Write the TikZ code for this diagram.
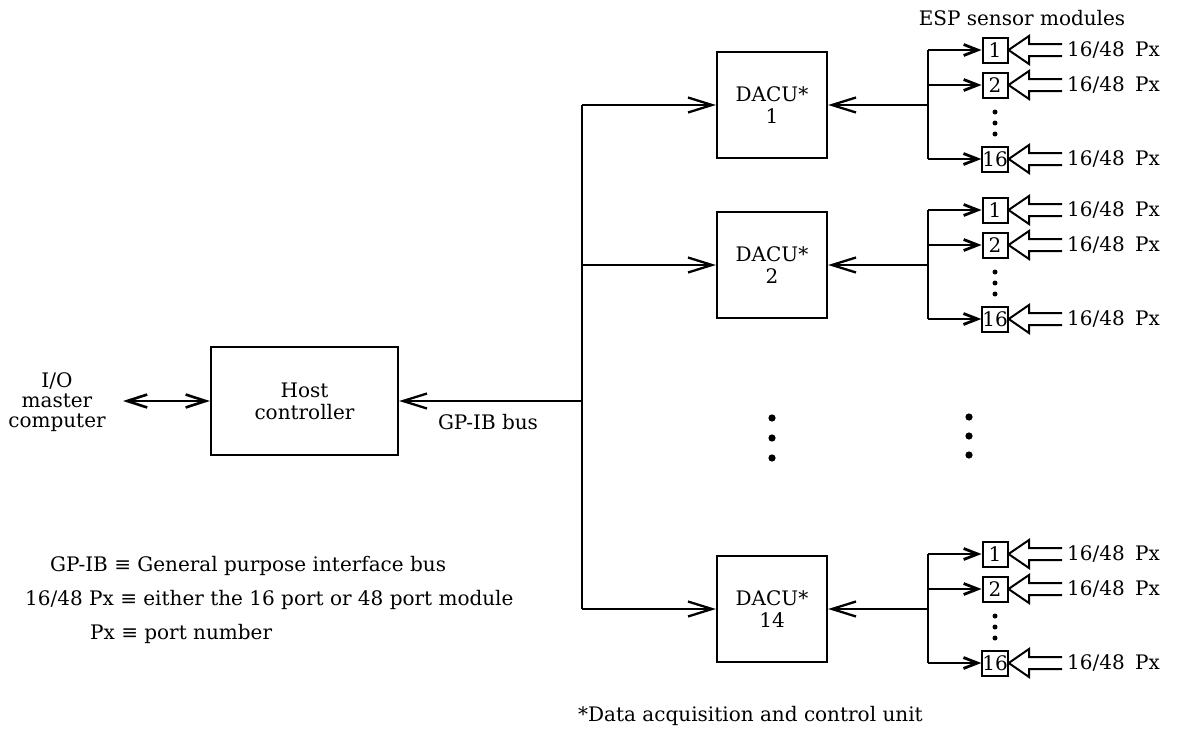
\documentclass[tikz,border=0pt]{standalone}
\usepackage{fontspec}
\setmainfont{DejaVu Serif}
\usetikzlibrary{arrows.meta}
\tikzset{
  txt/.style={font=\fontsize{20}{22}\selectfont, inner sep=0pt},
  dbox/.style={draw, line width=2.3pt, minimum width=110pt, minimum height=106pt, align=center, font=\fontsize{20}{22}\selectfont},
  hbox/.style={draw, line width=2.3pt, minimum width=187pt, minimum height=108pt, align=center, font=\fontsize{20}{22}\selectfont},
  mbox/.style={draw, line width=2pt, minimum width=25pt, minimum height=25pt, inner sep=0pt, font=\fontsize{20}{22}\selectfont},
  conn/.style={line width=2.3pt},
  arr/.style={line width=2.3pt, -{Straight Barb[length=24pt,width=15pt,line width=2.3pt]}},
  sarr/.style={line width=2.3pt, -{Straight Barb[length=14pt,width=11pt,line width=2.8pt]}},
  darr/.style={line width=2.8pt, {Straight Barb[length=20pt,width=13pt,line width=2.6pt]}-{Straight Barb[length=20pt,width=13pt,line width=2.6pt]}},
  hollow/.style={line width=2pt, line join=miter},
  dot/.style={fill=black},
}
\newcommand\dacuunit[3]{%
  \node[dbox] (#1) at (772,#3) {DACU*\\#2};
  \coordinate (#1b) at (928,#3);
  \draw[arr] (#1b) -- (#1.east);
  \foreach \m/\d in {1/-55,2/-20,16/54} {
    \node[mbox] (#1m\m) at (995,#3+\d) {\m};
    \coordinate (#1c\m) at (928,#3+\d);
    \draw[sarr] (#1c\m) -- (#1m\m.west);
    \draw[hollow] (1062,#3+\d-6) -- (1029,#3+\d-6) -- (1029,#3+\d-14) -- (#1m\m.east) -- (1029,#3+\d+14) -- (1029,#3+\d+6) -- (1062,#3+\d+6);
    \node[txt, anchor=west] (#1t\m) at (1067,#3+\d) {16/48\hspace{0.2em} Px};
  }
  \draw[conn] (#1c1) -- (#1c16);
  \fill[dot] (995,#3+7) circle (2.5pt);
  \fill[dot] (995,#3+18) circle (2.5pt);
  \fill[dot] (995,#3+29) circle (2.5pt);
}
\begin{document}
\begin{tikzpicture}[x=1pt,y=-1pt]
\useasboundingbox (0,0) rectangle (1180,739);
% left side
\node[txt, align=center, font=\fontsize{20}{20}\selectfont] (io) at (57,402) {I/O\\master\\computer};
\node[hbox] (host) at (304.5,401) {Host\\controller};
\coordinate (ioend) at (123,401);
\draw[darr] (ioend) -- (host.west);
% bus
\coordinate (bt) at (582,105);
\coordinate (b2) at (582,265);
\coordinate (bh) at (582,401);
\coordinate (bb) at (582,609);
\draw[conn] (bt) -- (bb);
\draw[arr] (bh) -- (host.east);
\node[txt] (gpib) at (488,422) {GP-IB bus};
% DACU units
\dacuunit{da}{1}{105}
\dacuunit{db}{2}{265}
\dacuunit{dc}{14}{609}
\draw[arr] (bt) -- (da.west);
\draw[arr] (b2) -- (db.west);
\draw[arr] (bb) -- (dc.west);
% ellipsis dots
\foreach \yy in {418,438,458} \fill[dot] (772,\yy) circle (3.6pt);
\foreach \yy in {417,436,455} \fill[dot] (969,\yy) circle (3.6pt);
% header
\node[txt] (esp) at (1022,18) {ESP sensor modules};
% legend
\node[txt, anchor=west] (l1) at (50,566) {GP-IB ≡ General purpose interface bus};
\node[txt, anchor=west] (l2) at (25,600) {16/48 Px ≡ either the 16 port or 48 port module};
\node[txt, anchor=west] (l3) at (90,634) {Px ≡ port number};
\node[txt, anchor=west] (foot) at (578,716) {*Data acquisition and control unit};
\end{tikzpicture}
\end{document}
